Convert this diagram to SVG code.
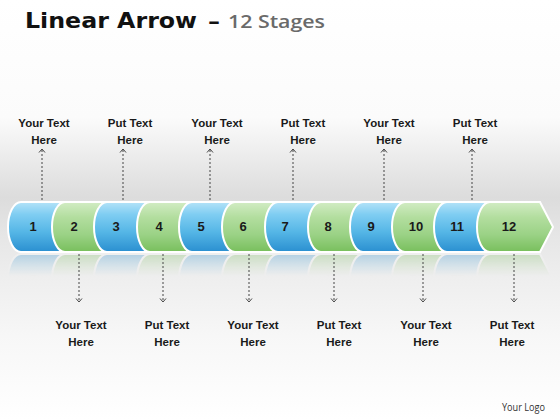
<svg xmlns="http://www.w3.org/2000/svg" xmlns:xlink="http://www.w3.org/1999/xlink" width="560" height="420" viewBox="0 0 560 420">
  <defs>
    <linearGradient id="bg" x1="0" y1="0" x2="0" y2="420" gradientUnits="userSpaceOnUse">
      <stop offset="0" stop-color="#ffffff"/>
      <stop offset="0.28" stop-color="#fbfbfb"/>
      <stop offset="0.47" stop-color="#dcdcdc"/>
      <stop offset="0.56" stop-color="#e6e6e6"/>
      <stop offset="0.66" stop-color="#eeeeee"/>
      <stop offset="0.8" stop-color="#f7f7f7"/>
      <stop offset="1" stop-color="#ffffff"/>
    </linearGradient>
    <linearGradient id="blue" x1="0" y1="202" x2="0" y2="252" gradientUnits="userSpaceOnUse">
      <stop offset="0" stop-color="#b4e3f8"/>
      <stop offset="0.25" stop-color="#7fcdf2"/>
      <stop offset="0.6" stop-color="#55b6e6"/>
      <stop offset="1" stop-color="#2a8fd0"/>
    </linearGradient>
    <linearGradient id="green" x1="0" y1="202" x2="0" y2="252" gradientUnits="userSpaceOnUse">
      <stop offset="0" stop-color="#d2ecc4"/>
      <stop offset="0.3" stop-color="#b3de9f"/>
      <stop offset="0.65" stop-color="#9bd286"/>
      <stop offset="1" stop-color="#78bf5c"/>
    </linearGradient>
    <linearGradient id="fade" x1="0" y1="253" x2="0" y2="276" gradientUnits="userSpaceOnUse">
      <stop offset="0" stop-color="#ffffff" stop-opacity="0.3"/>
      <stop offset="0.5" stop-color="#ffffff" stop-opacity="0.15"/>
      <stop offset="1" stop-color="#ffffff" stop-opacity="0"/>
    </linearGradient>
    <mask id="reflMask" maskUnits="userSpaceOnUse" x="0" y="250" width="560" height="30">
      <rect x="0" y="253" width="560" height="25" fill="url(#fade)"/>
    </mask>
    <marker id="tip" markerUnits="userSpaceOnUse" viewBox="-5 -4 6 8" refX="0" refY="0" markerWidth="6" markerHeight="8" orient="auto">
      <path d="M-3.5,-3 L0,0 L-3.5,3" fill="none" stroke="#444" stroke-width="1"/>
    </marker>
    <style>
      .seg { stroke: #ffffff; stroke-width: 2; }
      .b { fill: url(#blue); }
      .g { fill: url(#green); }
      .num { font-family: "Liberation Sans", Arial, sans-serif; font-weight: bold; font-size: 13px; fill: #1a1a1a; text-anchor: middle; }
      .lbl { font-family: "Liberation Sans", Arial, sans-serif; font-weight: bold; font-size: 11.5px; fill: #1a1a1a; text-anchor: middle; }
      .dash { stroke: #444; stroke-width: 1; stroke-dasharray: 2 2; fill: none; marker-end: url(#tip); }
    </style>
  </defs>

  <rect x="0" y="0" width="560" height="420" fill="url(#bg)"/>

  <!-- Title -->
  <text x="25" y="28" font-family="'DejaVu Sans', sans-serif" font-weight="bold" font-size="21" fill="#111" textLength="172" lengthAdjust="spacingAndGlyphs">Linear Arrow</text>
  <text x="208" y="28" font-family="'DejaVu Sans', sans-serif" font-weight="bold" font-size="20" fill="#111" textLength="12" lengthAdjust="spacingAndGlyphs">–</text>
  <text x="228" y="28" font-family="'Open Sans', sans-serif" font-weight="600" font-size="18" fill="#6a6a6a" textLength="97" lengthAdjust="spacingAndGlyphs">12 Stages</text>

  <!-- Arrow bar -->
  <g id="bar">
    <g id="seg1"><path class="seg b" d="M21,202 H72 V252 H21 A13,25 0 0 1 21,202 Z"/><text class="num" x="33" y="231">1</text></g>
    <g id="seg2"><path class="seg g" d="M65,202 H114 V252 H65 A13,25 0 0 1 65,202 Z"/><text class="num" x="74" y="231">2</text></g>
    <g id="seg3"><path class="seg b" d="M107,202 H157 V252 H107 A13,25 0 0 1 107,202 Z"/><text class="num" x="116" y="231">3</text></g>
    <g id="seg4"><path class="seg g" d="M150,202 H199 V252 H150 A13,25 0 0 1 150,202 Z"/><text class="num" x="159" y="231">4</text></g>
    <g id="seg5"><path class="seg b" d="M192,202 H242 V252 H192 A13,25 0 0 1 192,202 Z"/><text class="num" x="201" y="231">5</text></g>
    <g id="seg6"><path class="seg g" d="M235,202 H285 V252 H235 A13,25 0 0 1 235,202 Z"/><text class="num" x="243" y="231">6</text></g>
    <g id="seg7"><path class="seg b" d="M278,202 H328 V252 H278 A13,25 0 0 1 278,202 Z"/><text class="num" x="285" y="231">7</text></g>
    <g id="seg8"><path class="seg g" d="M321,202 H370 V252 H321 A13,25 0 0 1 321,202 Z"/><text class="num" x="328" y="231">8</text></g>
    <g id="seg9"><path class="seg b" d="M363,202 H412 V252 H363 A13,25 0 0 1 363,202 Z"/><text class="num" x="371" y="231">9</text></g>
    <g id="seg10"><path class="seg g" d="M405,202 H454 V252 H405 A13,25 0 0 1 405,202 Z"/><text class="num" x="416" y="231">10</text></g>
    <g id="seg11"><path class="seg b" d="M447,202 H497 V252 H447 A13,25 0 0 1 447,202 Z"/><text class="num" x="457" y="231">11</text></g>
    <g id="seg12"><path class="seg g" d="M490,202 H540 L553,227 L540,252 H490 A13,25 0 0 1 490,202 Z"/><text class="num" x="509" y="231">12</text></g>
  </g>

  <!-- Reflection -->
  <g mask="url(#reflMask)">
    <use xlink:href="#bar" href="#bar" transform="matrix(1,0,0,-1,0,506)"/>
  </g>

  <!-- Connectors -->
  <g id="connectors">
    <line class="dash" x1="42" y1="200" x2="42" y2="149"/>
    <line class="dash" x1="123" y1="200" x2="123" y2="149"/>
    <line class="dash" x1="210" y1="200" x2="210" y2="149"/>
    <line class="dash" x1="293" y1="200" x2="293" y2="149"/>
    <line class="dash" x1="384" y1="200" x2="384" y2="149"/>
    <line class="dash" x1="472" y1="200" x2="472" y2="149"/>
    <line class="dash" x1="79" y1="254" x2="79" y2="302"/>
    <line class="dash" x1="163" y1="254" x2="163" y2="302"/>
    <line class="dash" x1="249" y1="254" x2="249" y2="302"/>
    <line class="dash" x1="334" y1="254" x2="334" y2="302"/>
    <line class="dash" x1="423" y1="254" x2="423" y2="302"/>
    <line class="dash" x1="514" y1="254" x2="514" y2="302"/>
  </g>

  <!-- Top labels -->
  <g id="label-t1"><text class="lbl" x="44" y="127">Your Text</text><text class="lbl" x="44" y="144">Here</text></g>
  <g id="label-t2"><text class="lbl" x="130" y="127">Put Text</text><text class="lbl" x="130" y="144">Here</text></g>
  <g id="label-t3"><text class="lbl" x="217" y="127">Your Text</text><text class="lbl" x="217" y="144">Here</text></g>
  <g id="label-t4"><text class="lbl" x="303" y="127">Put Text</text><text class="lbl" x="303" y="144">Here</text></g>
  <g id="label-t5"><text class="lbl" x="389" y="127">Your Text</text><text class="lbl" x="389" y="144">Here</text></g>
  <g id="label-t6"><text class="lbl" x="475" y="127">Put Text</text><text class="lbl" x="475" y="144">Here</text></g>

  <!-- Bottom labels -->
  <g id="label-b1"><text class="lbl" x="81" y="329">Your Text</text><text class="lbl" x="81" y="346">Here</text></g>
  <g id="label-b2"><text class="lbl" x="167" y="329">Put Text</text><text class="lbl" x="167" y="346">Here</text></g>
  <g id="label-b3"><text class="lbl" x="253" y="329">Your Text</text><text class="lbl" x="253" y="346">Here</text></g>
  <g id="label-b4"><text class="lbl" x="339" y="329">Put Text</text><text class="lbl" x="339" y="346">Here</text></g>
  <g id="label-b5"><text class="lbl" x="426" y="329">Your Text</text><text class="lbl" x="426" y="346">Here</text></g>
  <g id="label-b6"><text class="lbl" x="512" y="329">Put Text</text><text class="lbl" x="512" y="346">Here</text></g>

  <text x="502" y="411" font-family="'Open Sans', 'Liberation Sans', sans-serif" font-size="10" fill="#333" textLength="43" lengthAdjust="spacingAndGlyphs">Your Logo</text>
</svg>
